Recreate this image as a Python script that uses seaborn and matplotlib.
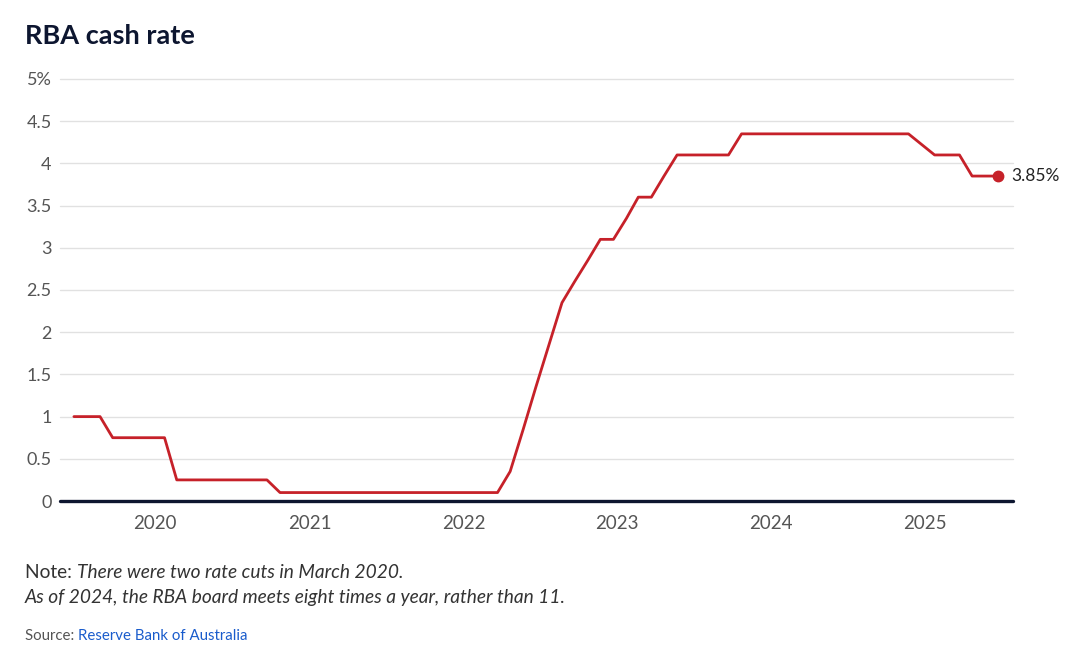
import pandas as pd
import seaborn as sns
import matplotlib.pyplot as plt

# monthly cash rate readings (no Jan 2025 reading in the source series)
months = [
    "2019-07", "2019-08", "2019-09", "2019-10", "2019-11", "2019-12",
    "2020-01", "2020-02", "2020-03", "2020-04", "2020-05", "2020-06",
    "2020-07", "2020-08", "2020-09", "2020-10", "2020-11", "2020-12",
    "2021-01", "2021-02", "2021-03", "2021-04", "2021-05", "2021-06",
    "2021-07", "2021-08", "2021-09", "2021-10", "2021-11", "2021-12",
    "2022-01", "2022-02", "2022-03", "2022-04", "2022-05", "2022-06",
    "2022-07", "2022-08", "2022-09", "2022-10", "2022-11", "2022-12",
    "2023-01", "2023-02", "2023-03", "2023-04", "2023-05", "2023-06",
    "2023-07", "2023-08", "2023-09", "2023-10", "2023-11", "2023-12",
    "2024-01", "2024-02", "2024-03", "2024-04", "2024-05", "2024-06",
    "2024-07", "2024-08", "2024-09", "2024-10", "2024-11", "2024-12",
    "2025-02", "2025-03", "2025-04", "2025-05", "2025-06", "2025-07",
]
rates = [
    1.0, 1.0, 1.0, 0.75, 0.75, 0.75,
    0.75, 0.75, 0.25, 0.25, 0.25, 0.25,
    0.25, 0.25, 0.25, 0.25, 0.1, 0.1,
    0.1, 0.1, 0.1, 0.1, 0.1, 0.1,
    0.1, 0.1, 0.1, 0.1, 0.1, 0.1,
    0.1, 0.1, 0.1, 0.1, 0.35, 0.85,
    1.35, 1.85, 2.35, 2.6, 2.85, 3.1,
    3.1, 3.35, 3.6, 3.6, 3.85, 4.1,
    4.1, 4.1, 4.1, 4.1, 4.35, 4.35,
    4.35, 4.35, 4.35, 4.35, 4.35, 4.35,
    4.35, 4.35, 4.35, 4.35, 4.35, 4.35,
    4.1, 4.1, 4.1, 3.85, 3.85, 3.85,
]
y_ticks = [0, 0.5, 1, 1.5, 2, 2.5, 3, 3.5, 4, 4.5, 5]
y_labels = ["0", "0.5", "1", "1.5", "2", "2.5", "3", "3.5", "4", "4.5", "5%"]
years = ["2020", "2021", "2022", "2023", "2024", "2025"]

df = pd.DataFrame({"date": pd.to_datetime(months), "rate": rates})

RED = "#c62129"
NAVY = "#0d1630"
GREY = "#555555"

sns.set_style("white")
plt.rcParams["font.family"] = ["Lato", "DejaVu Sans"]

fig = plt.figure(figsize=(10.8, 6.54), dpi=100)
ax = fig.add_axes([60 / 1080, 1 - 501 / 654, (1013 - 60) / 1080, (501 - 79) / 654])

sns.lineplot(data=df, x="date", y="rate", color=RED, linewidth=2.0, ax=ax, zorder=3)
last = df.iloc[-1]
ax.plot(last["date"], last["rate"], "o", color=RED, markersize=7.5, zorder=4, clip_on=False)
ax.annotate(f"{last['rate']:.2f}%", (last["date"], last["rate"]), xytext=(10, 0),
            textcoords="offset points", va="center", ha="left", fontsize=12.5,
            color="#222222", annotation_clip=False)

ax.set_xlim(pd.Timestamp("2019-05-29"), pd.Timestamp("2025-08-06"))
ax.set_ylim(0, 5)
ax.set_yticks(y_ticks)
ax.set_yticklabels(y_labels)
ax.set_xticks(pd.to_datetime([y + "-01-10" for y in years]))
ax.set_xticklabels(years)
ax.tick_params(axis="both", length=0, labelcolor=GREY)
ax.tick_params(axis="x", pad=10, labelsize=13.5)
ax.tick_params(axis="y", pad=6, labelsize=13)
ax.set_xlabel("")
ax.set_ylabel("")

for t in y_ticks[1:]:
    ax.axhline(t, color="#e1e1e1", linewidth=1, zorder=1, clip_on=False)
ax.axhline(0, color=NAVY, linewidth=2.4, zorder=5, clip_on=False)
for s in ax.spines.values():
    s.set_visible(False)

fig.text(25 / 1080, 1 - 36 / 654, "RBA cash rate", fontsize=19.5, fontweight="bold",
         color=NAVY, va="center", ha="left")

# footer with mixed styles
r = fig.canvas.get_renderer()
t1 = fig.text(25 / 1080, 1 - 573 / 654, "Note: ", fontsize=13.8, color="#333333", va="center")
w = t1.get_window_extent(r).width / 1080
fig.text(25 / 1080 + w, 1 - 573 / 654, "There were two rate cuts in March 2020.",
         fontsize=13.8, style="italic", color="#333333", va="center")
fig.text(25 / 1080, 1 - 598 / 654, "As of 2024, the RBA board meets eight times a year, rather than 11.",
         fontsize=13.8, style="italic", color="#333333", va="center")
t2 = fig.text(25 / 1080, 1 - 636 / 654, "Source: ", fontsize=10.8, color=GREY, va="center")
w2 = t2.get_window_extent(r).width / 1080
fig.text(25 / 1080 + w2, 1 - 636 / 654, "Reserve Bank of Australia", fontsize=10.8,
         color="#1a5ccc", va="center")

fig.savefig("out.png", dpi=100)
